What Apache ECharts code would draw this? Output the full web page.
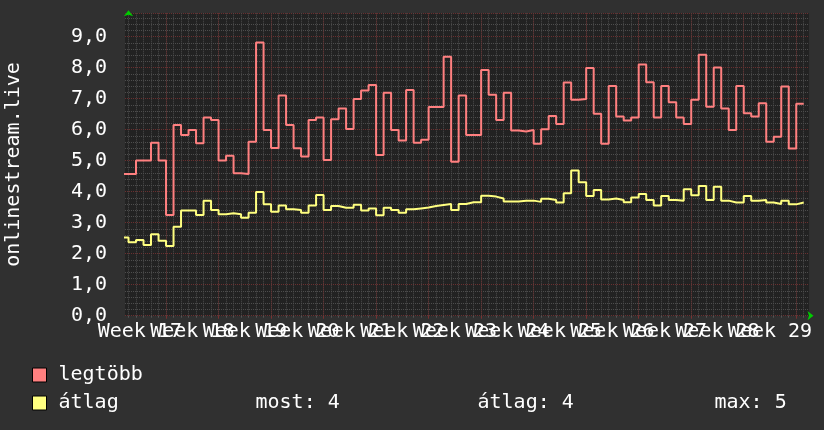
<!DOCTYPE html>
<html>
<head>
<meta charset="utf-8">
<script src="https://cdn.jsdelivr.net/npm/echarts@6/dist/echarts.min.js"></script>
<style>
  html, body { margin: 0; padding: 0; background: #303030; }
  #chart { width: 824px; height: 430px; }
</style>
</head>
<body>
<div id="chart"></div>
<script>
// napi adatok: elso elem a reszben latszo elozo nap (-1), utana 0..89
const weeks = [17, 18, 19, 20, 21, 22, 23, 24, 25, 26, 27, 28, 29];
const firstDay = -1;
const maxValues = [
  4.57, 4.57, 5.0, 5.0, 5.58, 5.0, 3.25, 6.15, 5.83, 5.99, 5.56,
  6.39, 6.31, 5.0, 5.16, 4.59, 4.57, 5.61, 8.81, 5.99, 5.41,
  7.10, 6.15, 5.40, 5.13, 6.31, 6.39, 5.02, 6.33, 6.68, 6.02,
  6.99, 7.26, 7.44, 5.18, 7.19, 5.99, 5.65, 7.28, 5.58, 5.67,
  6.73, 6.73, 8.35, 4.96, 7.10, 5.83, 5.83, 7.92, 7.12, 6.31,
  7.19, 5.97, 5.94, 5.99, 5.54, 6.01, 6.44, 6.18, 7.52, 6.96,
  6.99, 7.99, 6.51, 5.54, 7.41, 6.42, 6.29, 6.39, 8.10, 7.53,
  6.39, 7.41, 6.88, 6.39, 6.18, 6.96, 8.41, 6.74, 8.0, 6.68,
  5.99, 7.41, 6.53, 6.42, 6.85, 5.61, 5.77, 7.39, 5.39, 6.83
];
const avgValues = [
  2.52, 2.37, 2.44, 2.28, 2.63, 2.42, 2.25, 2.87, 3.39, 3.39, 3.25,
  3.71, 3.41, 3.27, 3.30, 3.27, 3.16, 3.32, 3.99, 3.59, 3.35,
  3.55, 3.43, 3.41, 3.32, 3.55, 3.89, 3.41, 3.54, 3.48, 3.48,
  3.58, 3.39, 3.46, 3.24, 3.48, 3.41, 3.32, 3.43, 3.46, 3.49,
  3.54, 3.57, 3.60, 3.41, 3.60, 3.66, 3.66, 3.87, 3.84, 3.78,
  3.68, 3.68, 3.71, 3.71, 3.67, 3.77, 3.73, 3.65, 3.95, 4.68,
  4.30, 3.86, 4.05, 3.75, 3.78, 3.73, 3.66, 3.81, 3.92, 3.73,
  3.55, 3.86, 3.73, 3.71, 4.08, 3.88, 4.18, 3.73, 4.16, 3.71,
  3.65, 3.65, 3.86, 3.71, 3.73, 3.65, 3.60, 3.71, 3.59, 3.65
];
const legendStats = { most: 4, atlag: 4, max: 5 };

const X_MIN = -0.47, X_MAX = 90.7;
const FONT = "'DejaVu Sans Mono', monospace";

function toPairs(values) {
  const pts = values.map((v, i) => [firstDay + i, v]);
  // zaro pont, hogy az utolso nap lepcsoje is kirajzolodjon
  pts.push([firstDay + values.length, values[values.length - 1]]);
  return pts;
}

const dayTicks = [];
for (let d = 0; d <= 90; d++) dayTicks.push(d);
const weekLines = weeks.map((w, i) => 5 + 7 * i);
const weekMids = weeks.map((w, i) => 1.5 + 7 * i);
// ures cimke a ket szelen, hogy az echarts ne rejtse el a masodik/utolso elotti cimket
const labelValues = [X_MIN].concat(weekMids, [X_MAX]);

function weekLabel(v) {
  const i = Math.round((v - 1.5) / 7);
  if (Math.abs(v - weekMids[i]) > 0.01 || weeks[i] == null) return '';
  return 'Week ' + weeks[i];
}

const chart = echarts.init(document.getElementById('chart'));
const option = {
  backgroundColor: '#303030',
  animation: false,
  grid: {
    left: 125, right: 15, top: 13.3, bottom: 114.3,
    show: true, backgroundColor: '#222222', borderWidth: 0,
    outerBoundsMode: 'none'
  },
  legend: [
    {
      data: ['legtöbb'], left: 32, top: 365, padding: 0, orient: 'vertical',
      itemWidth: 14, itemHeight: 14, icon: 'rect',
      itemStyle: { borderColor: '#000', borderWidth: 1 },
      textStyle: { color: '#fff', fontFamily: FONT, fontSize: 20, padding: [0, 0, 0, 7] }
    },
    {
      data: ['átlag'], left: 32, top: 393, padding: 0, orient: 'vertical',
      itemWidth: 14, itemHeight: 14, icon: 'rect',
      itemStyle: { borderColor: '#000', borderWidth: 1 },
      formatter: name => '{a|' + name + '}{b|most: ' + legendStats.most + '}{c|átlag: ' +
        legendStats.atlag + '}{d|max: ' + legendStats.max + '}',
      textStyle: {
        color: '#fff', fontFamily: FONT, fontSize: 20, padding: [0, 0, 0, 7],
        rich: {
          a: { width: 197, color: '#fff', fontFamily: FONT, fontSize: 20 },
          b: { width: 222, color: '#fff', fontFamily: FONT, fontSize: 20 },
          c: { width: 237, color: '#fff', fontFamily: FONT, fontSize: 20 },
          d: { color: '#fff', fontFamily: FONT, fontSize: 20 }
        }
      }
    }
  ],
  xAxis: [
    {
      type: 'value', min: X_MIN, max: X_MAX, position: 'bottom',
      axisLine: {
        show: true, symbol: ['none', 'arrow'], symbolSize: [7, 6], symbolOffset: [0, 4.5],
        lineStyle: { color: '#00cc00', width: 0 }
      },
      axisTick: { show: true, customValues: dayTicks, length: 2, lineStyle: { color: '#555' } },
      axisLabel: { show: false },
      splitLine: { show: true, lineStyle: { color: '#4d4d4d', type: [1, 1], width: 1 } }
    },
    {
      type: 'value', min: X_MIN, max: X_MAX, position: 'bottom',
      axisLine: { show: false },
      axisTick: { show: true, customValues: weekLines, length: 3, lineStyle: { color: '#7a3030' } },
      axisLabel: {
        customValues: labelValues, margin: 6, color: '#fff', fontFamily: FONT, fontSize: 20,
        showMinLabel: true, showMaxLabel: true, hideOverlap: false,
        formatter: weekLabel
      },
      splitLine: { show: true, lineStyle: { color: '#6b2f2f', type: [1, 1], width: 1 } }
    }
  ],
  yAxis: [
    {
      type: 'value', min: 0, max: 9.75, interval: 0.2, position: 'left',
      axisLine: { show: false }, axisTick: { show: false }, axisLabel: { show: false },
      splitLine: { show: true, lineStyle: { color: '#4d4d4d', type: [1, 1], width: 1 } }
    },
    {
      type: 'value', min: 0, max: 9.75, interval: 1, position: 'left',
      name: 'onlinestream.live', nameLocation: 'middle', nameRotate: 90, nameGap: 101,
      nameTextStyle: { color: '#fff', fontFamily: FONT, fontSize: 20 },
      axisLine: {
        show: true, symbol: ['none', 'arrow'], symbolSize: [7, 6], symbolOffset: [0, 3],
        lineStyle: { color: '#00cc00', width: 0 }
      },
      axisTick: { show: false },
      axisLabel: {
        margin: 18, color: '#fff', fontFamily: FONT, fontSize: 20, showMaxLabel: false,
        formatter: v => Number.isInteger(v) ? v.toFixed(1).replace('.', ',') : ''
      },
      splitLine: { show: true, lineStyle: { color: '#6b2f2f', type: [1, 1], width: 1 } }
    }
  ],
  series: [
    {
      name: 'legtöbb', type: 'line', step: 'end', symbol: 'none',
      xAxisIndex: 0, yAxisIndex: 1,
      color: '#ff8080', lineStyle: { width: 2 },
      data: toPairs(maxValues)
    },
    {
      name: 'átlag', type: 'line', step: 'end', symbol: 'none',
      xAxisIndex: 0, yAxisIndex: 1,
      color: '#ffff80', lineStyle: { width: 2 },
      data: toPairs(avgValues)
    }
  ]
};
chart.setOption(option);
</script>
</body>
</html>
